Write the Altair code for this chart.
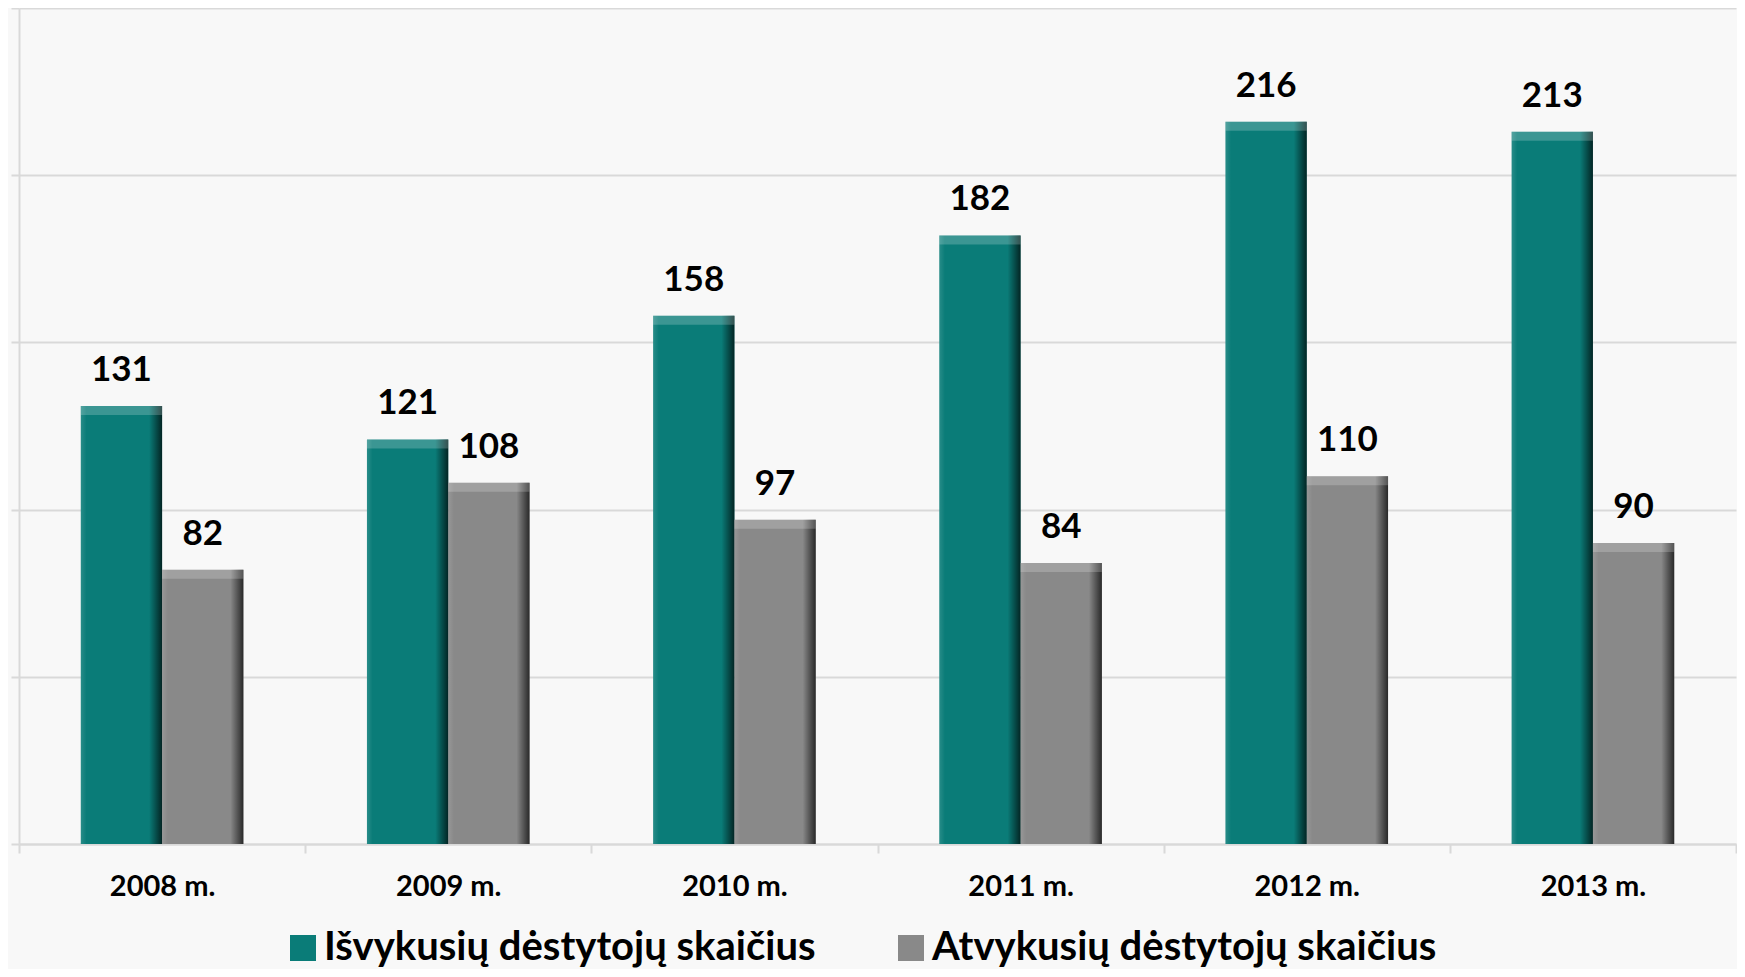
import altair as alt
import pandas as pd

years = ["2008 m.", "2009 m.", "2010 m.", "2011 m.", "2012 m.", "2013 m."]
series_names = ["Išvykusių dėstytojų skaičius", "Atvykusių dėstytojų skaičius"]
isvyk = [131, 121, 158, 182, 216, 213]
atvyk = [82, 108, 97, 84, 110, 90]
colors = ["#0A7C78", "#898989"]
y_ticks = [0, 50, 100, 150, 200, 250]

rows = []
for i, yr in enumerate(years):
    rows.append({"year": yr, "series": series_names[0], "value": isvyk[i]})
    rows.append({"year": yr, "series": series_names[1], "value": atvyk[i]})
df = pd.DataFrame(rows)

FONT = "Lato"
GRID = "#D9D9D9"

x_enc = alt.X(
    "year:N", sort=years, title=None,
    scale=alt.Scale(paddingInner=0, paddingOuter=0),
    axis=alt.Axis(
        domainColor=GRID, domainWidth=2, tickColor=GRID, tickWidth=2, tickSize=9,
        tickBand="extent", labelFont=FONT, labelFontSize=29, labelFontWeight="bold",
        labelColor="black", labelBaseline="alphabetic", labelPadding=42,
        labelAngle=0, grid=False,
    ),
)
xo_enc = alt.XOffset("series:N", sort=series_names,
                     scale=alt.Scale(paddingInner=0, paddingOuter=0.76))
y_enc = alt.Y(
    "value:Q", title=None,
    scale=alt.Scale(domain=[0, 250], nice=False),
    axis=alt.Axis(
        values=y_ticks, labels=False, domainColor=GRID, domainWidth=2,
        tickColor=GRID, tickWidth=2, tickSize=8, grid=True, gridColor=GRID,
        gridWidth=2,
    ),
)

base = alt.Chart(df)

bars = base.mark_bar().encode(
    x=x_enc, xOffset=xo_enc, y=y_enc,
    color=alt.Color(
        "series:N", sort=series_names,
        scale=alt.Scale(domain=series_names, range=colors),
        legend=alt.Legend(
            orient="none", legendX=264, legendY=920, direction="horizontal",
            title=None, labelFont=FONT, labelFontSize=40, labelFontWeight="bold",
            labelColor="black", symbolType="square", symbolSize=676,
            symbolStrokeWidth=0, symbolOpacity=1, labelOffset=1, columnPadding=75,
            labelLimit=1000, padding=0,
        ),
    ),
)

shade = base.mark_bar(
    fill=alt.Gradient(
        gradient="linear", x1=0, x2=1, y1=0, y2=0,
        stops=[
            alt.GradientStop(color="rgba(255,255,255,0.12)", offset=0),
            alt.GradientStop(color="rgba(255,255,255,0)", offset=0.07),
            alt.GradientStop(color="rgba(0,0,0,0)", offset=0.84),
            alt.GradientStop(color="rgba(0,0,0,0.7)", offset=1),
        ],
    )
).encode(x=x_enc, xOffset=xo_enc, y=y_enc)

bevel = base.mark_bar(fill="white", opacity=0.2, y2Offset=9).encode(
    x=x_enc, xOffset=xo_enc, y=y_enc, y2="value:Q"
)

labels = base.mark_text(
    font=FONT, fontSize=35, fontWeight="bold", color="black",
    baseline="alphabetic", dy=-25,
).encode(x=x_enc, xOffset=xo_enc, y=y_enc, text="value:Q")

chart = (
    alt.layer(bars, shade, bevel, labels)
    .properties(
        width=1717, height=836, background="#F8F8F8",
        autosize=alt.AutoSizeParams(type="none"),
        padding={"left": 11, "top": 0, "right": 1, "bottom": 125},
    )
    .configure_view(stroke=None)
)

chart.save("out.html", embed_options={"renderer": "svg", "actions": False})
